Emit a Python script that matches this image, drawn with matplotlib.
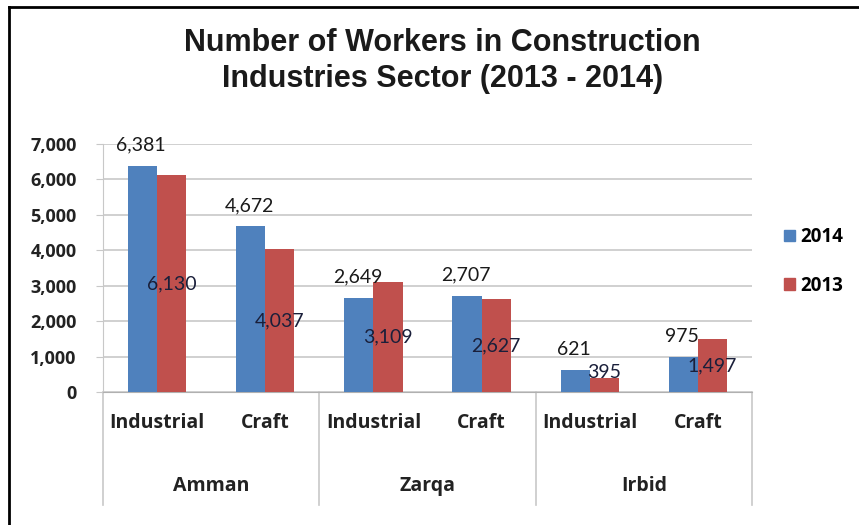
import matplotlib
matplotlib.use("Agg")
import matplotlib.pyplot as plt
from matplotlib.lines import Line2D
from matplotlib.patches import Patch
import numpy as np

# workers per city / industry type
cities = ["Amman", "Zarqa", "Irbid"]
sectors = ["Industrial", "Craft", "Industrial", "Craft", "Industrial", "Craft"]
workers_2014 = [6381, 4672, 2649, 2707, 621, 975]
workers_2013 = [6130, 4037, 3109, 2627, 395, 1497]

blue = "#4F81BD"
red = "#C0504D"
grid_col = "#C8C8C8"
ink = "#222222"
bold_font = {"family": "Open Sans", "weight": "bold"}

fig = plt.figure(figsize=(8.59, 5.25), dpi=100)
ax = fig.add_axes([103 / 859, 1 - 392 / 525, 649 / 859, 248 / 525])

x = np.arange(len(sectors))
w = 0.27
ax.bar(x - w / 2, workers_2014, w, color=blue, zorder=3)
ax.bar(x + w / 2, workers_2013, w, color=red, zorder=3)

ax.set_xlim(-0.5, len(sectors) - 0.5)
ax.set_ylim(0, 7000)
ax.set_yticks(range(0, 7001, 1000))
ax.set_yticklabels([f"{v:,}" for v in range(0, 7001, 1000)],
                   fontsize=13, color=ink, **bold_font)
ax.tick_params(axis="y", length=5, color=grid_col, pad=14)
ax.set_xticks([])
ax.grid(axis="y", color=grid_col, linewidth=1.2, zorder=0)
for s in ["top", "right"]:
    ax.spines[s].set_visible(False)
ax.spines["left"].set_color(grid_col)
ax.spines["bottom"].set_color("#B0B0B0")

# value labels: 2014 above the bar, 2013 inside the bar
for xi, v in zip(x, workers_2014):
    ax.annotate(f"{v:,}", (xi - w / 2, v), xytext=(-1, 15), textcoords="offset points",
                ha="center", va="center", fontfamily="Lato", fontsize=14,
                color="#1a1a1a", zorder=5)
for xi, v in zip(x, workers_2013):
    ax.text(xi + w / 2, max(v / 2, 560), f"{v:,}", ha="center", va="center",
            fontfamily="Lato", fontsize=14, color="#1a1f3a", zorder=5)

# two-level category axis
tr = ax.get_xaxis_transform()
for xi, name in zip(x, sectors):
    ax.text(xi, -0.125, name, transform=tr, ha="center", va="center",
            fontsize=14, color=ink, **bold_font)
for i, city in enumerate(cities):
    ax.text(2 * i + 0.5, -0.38, city, transform=tr, ha="center", va="center",
            fontsize=14, color=ink, **bold_font)
for xs in [-0.5, 1.5, 3.5, 5.5]:
    ax.add_line(Line2D([xs, xs], [0, -0.456], transform=tr, color=grid_col,
                       linewidth=1.2, clip_on=False))

fig.text(0.515, 1 - 61 / 525, "Number of Workers in Construction\nIndustries Sector (2013 - 2014)",
         ha="center", va="center", fontfamily="Liberation Sans", fontweight="bold",
         fontsize=22, linespacing=1.25, color="#1a1a1a")

handles = [Patch(color=blue, label="2014"), Patch(color=red, label="2013")]
fig.legend(handles=handles, loc="center left", bbox_to_anchor=(0.913, 0.502),
           frameon=False, handlelength=0.55, handleheight=0.55, handletextpad=0.3,
           labelspacing=1.5, borderpad=0, borderaxespad=0,
           prop={"family": "Open Sans", "weight": "bold", "size": 13.5})

# outer frame, top and left edges
fig.add_artist(Line2D([9 / 859, 9 / 859], [0, 1 - 7 / 525], transform=fig.transFigure,
                      color="black", linewidth=2))
fig.add_artist(Line2D([9 / 859, 1], [1 - 7 / 525, 1 - 7 / 525], transform=fig.transFigure,
                      color="black", linewidth=2))

fig.savefig("out.png", dpi=100)
